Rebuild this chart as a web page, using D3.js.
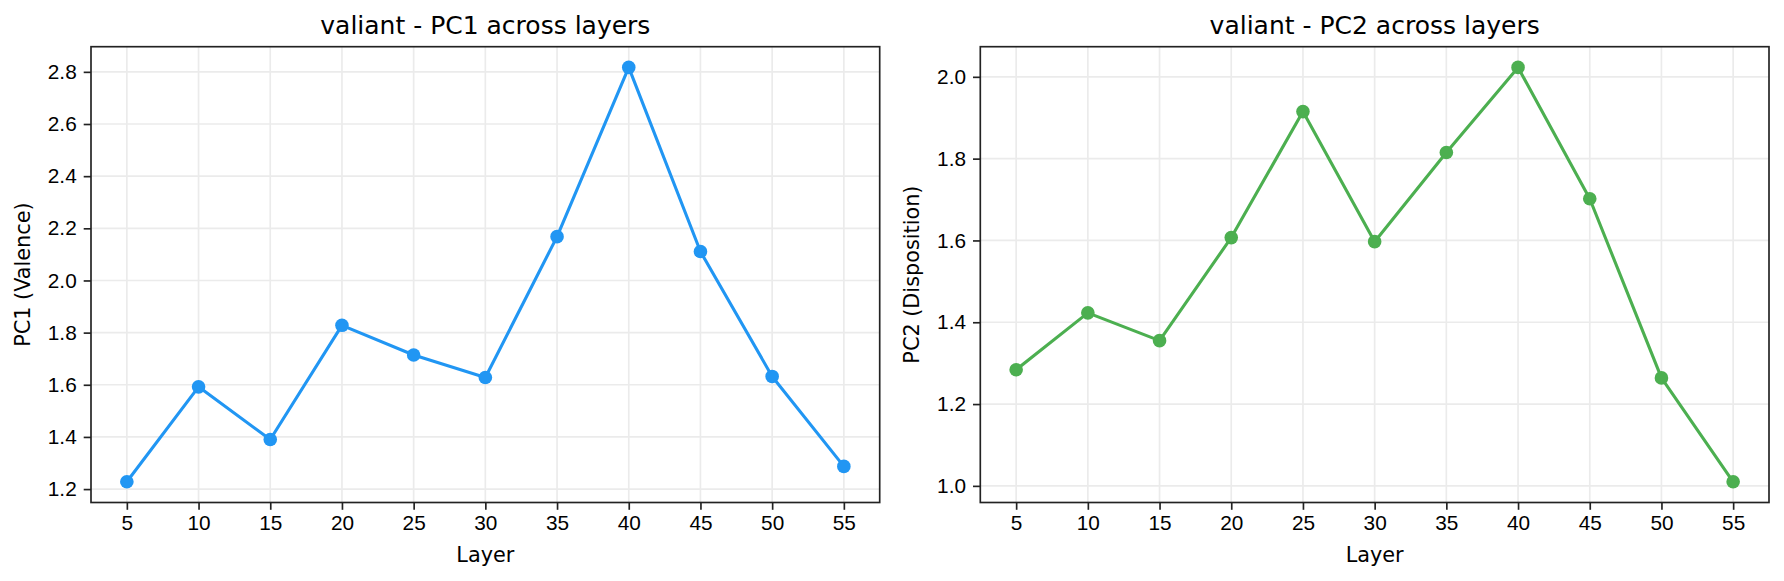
<!DOCTYPE html>
<html>
<head>
<meta charset="utf-8">
<script src="https://cdn.jsdelivr.net/npm/d3@7"></script>
<style>
  body { margin: 0; background: #fff; }
  svg { display: block; font-family: "DejaVu Sans", sans-serif; }
  .grid line { stroke: #ebebeb; stroke-width: 1.67; }
  .axis path, .axis line { stroke: #222; stroke-width: 1.67; }
  .axis text { font-size: 20.8px; fill: #000; }
</style>
</head>
<body>
<svg id="chart" width="1784" height="581"></svg>
<script>
// layers on the x axis
const layers = [5, 10, 15, 20, 25, 30, 35, 40, 45, 50, 55];
// PC1 (Valence) per layer
const pc1 = [1.228, 1.592, 1.390, 1.828, 1.714, 1.628, 2.168, 2.817, 2.111, 1.632, 1.287];
// PC2 (Disposition) per layer
const pc2 = [1.284, 1.423, 1.355, 1.607, 1.915, 1.597, 1.815, 2.023, 1.702, 1.264, 1.010];
const pc1Ticks = [1.2, 1.4, 1.6, 1.8, 2.0, 2.2, 2.4, 2.6, 2.8];
const pc2Ticks = [1.0, 1.2, 1.4, 1.6, 1.8, 2.0];

const svg = d3.select("#chart");

function drawPanel(opt) {
  const left = opt.left, right = opt.right, top = 46.7, bottom = 502.5;
  const g = svg.append("g");

  const x = d3.scaleLinear().domain([2.5, 57.5]).range([left, right]);
  // matplotlib-style 5% margin around the data
  const ext = d3.extent(opt.values);
  const pad = (ext[1] - ext[0]) * 0.05;
  const y = d3.scaleLinear().domain([ext[0] - pad, ext[1] + pad]).range([bottom, top]);

  // grid
  const grid = g.append("g").attr("class", "grid");
  grid.selectAll(".gx").data(layers).enter().append("line")
    .attr("x1", d => x(d)).attr("x2", d => x(d))
    .attr("y1", top).attr("y2", bottom);
  grid.selectAll(".gy").data(opt.ticks).enter().append("line")
    .attr("x1", left).attr("x2", right)
    .attr("y1", d => y(d)).attr("y2", d => y(d));

  // line + markers
  const pts = layers.map((l, i) => [l, opt.values[i]]);
  g.append("path")
    .datum(pts)
    .attr("fill", "none")
    .attr("stroke", opt.color)
    .attr("stroke-width", 3.1)
    .attr("stroke-linejoin", "round")
    .attr("d", d3.line().x(d => x(d[0])).y(d => y(d[1])));
  g.selectAll(".dot").data(pts).enter().append("circle")
    .attr("cx", d => x(d[0])).attr("cy", d => y(d[1]))
    .attr("r", 6.8).attr("fill", opt.color);

  // axes
  g.append("g").attr("class", "axis")
    .attr("transform", "translate(0," + bottom + ")")
    .call(d3.axisBottom(x).tickValues(layers).tickSize(7.3).tickPadding(5).tickSizeOuter(0))
    .call(a => a.select(".domain").remove());
  g.append("g").attr("class", "axis")
    .attr("transform", "translate(" + left + ",0)")
    .call(d3.axisLeft(y).tickValues(opt.ticks).tickFormat(d3.format(".1f")).tickSize(7.3).tickPadding(7).tickSizeOuter(0))
    .call(a => a.select(".domain").remove());

  // frame
  g.append("rect")
    .attr("x", left).attr("y", top)
    .attr("width", right - left).attr("height", bottom - top)
    .attr("fill", "none").attr("stroke", "#222").attr("stroke-width", 1.67);

  // texts
  g.append("text")
    .attr("x", (left + right) / 2).attr("y", 34)
    .attr("text-anchor", "middle").attr("font-size", 25)
    .text(opt.title);
  g.append("text")
    .attr("x", (left + right) / 2).attr("y", 562)
    .attr("text-anchor", "middle").attr("font-size", 20.8)
    .text("Layer");
  g.append("text")
    .attr("transform", "translate(" + opt.ylabelX + "," + ((top + bottom) / 2) + ") rotate(-90)")
    .attr("text-anchor", "middle").attr("font-size", 20.8)
    .text(opt.ylabel);
}

drawPanel({
  left: 91, right: 879.7, values: pc1, ticks: pc1Ticks, color: "#2196F3",
  title: "valiant - PC1 across layers", ylabel: "PC1 (Valence)", ylabelX: 30
});
drawPanel({
  left: 980.3, right: 1769, values: pc2, ticks: pc2Ticks, color: "#4CAF50",
  title: "valiant - PC2 across layers", ylabel: "PC2 (Disposition)", ylabelX: 919
});
</script>
</body>
</html>
